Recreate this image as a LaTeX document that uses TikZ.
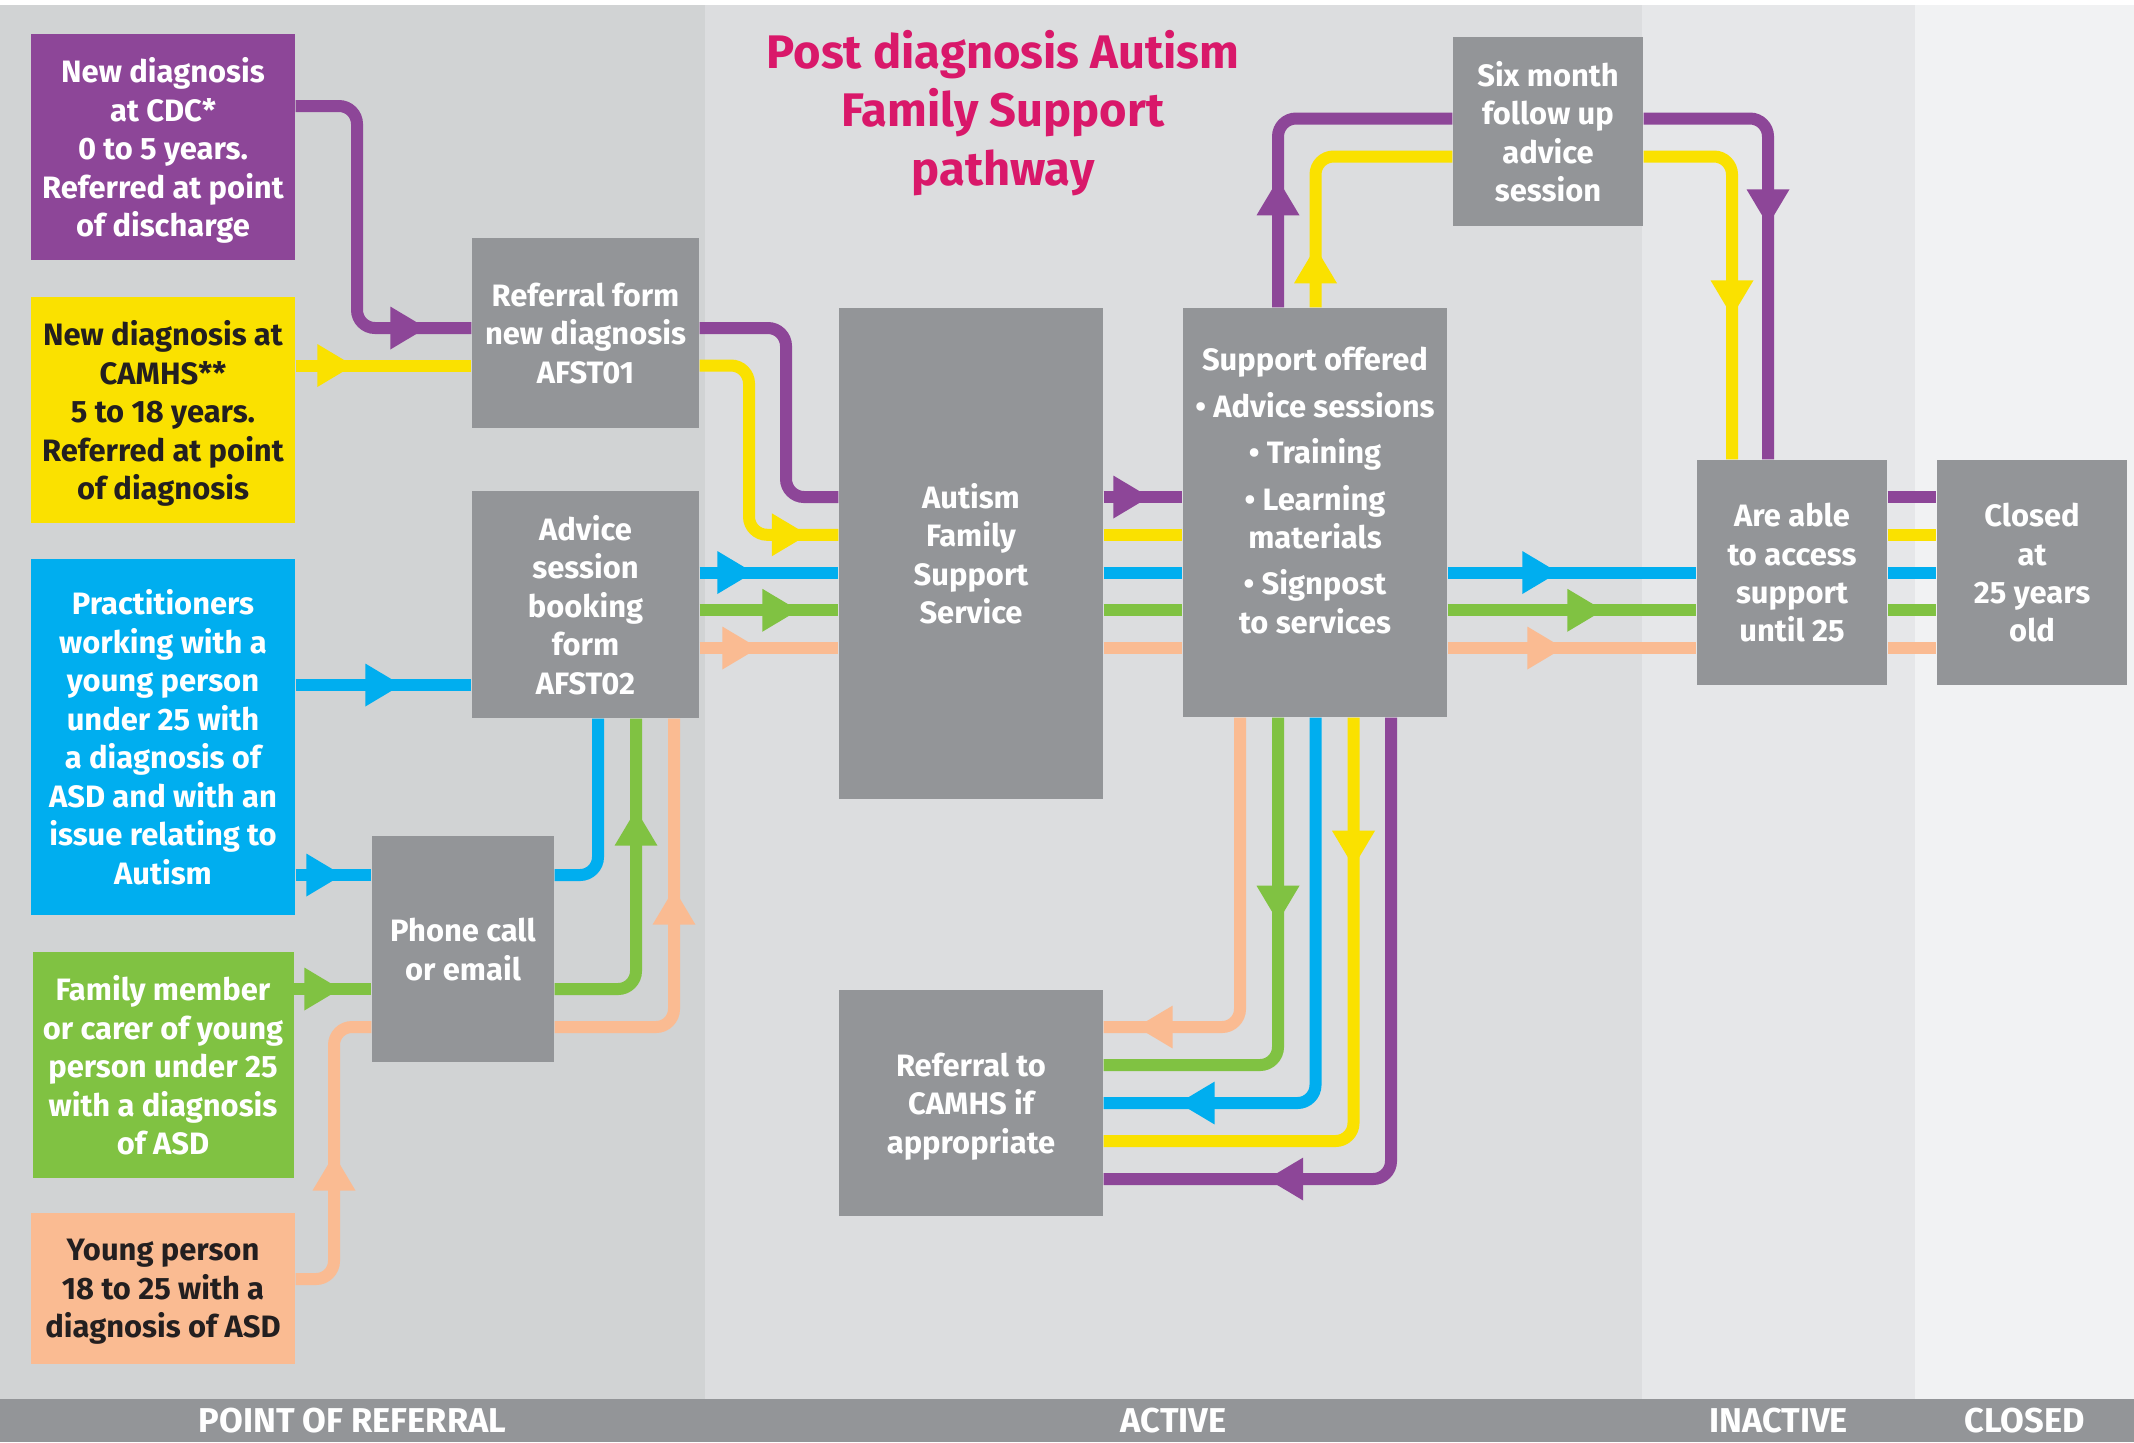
\documentclass[tikz,border=0pt]{standalone}
\usepackage{fontspec}
\setmainfont{Fira Sans}
\usetikzlibrary{arrows.meta, decorations.markings}
\definecolor{afpurple}{HTML}{8D4698}
\definecolor{afyellow}{HTML}{FAE100}
\definecolor{afblue}{HTML}{00AEEF}
\definecolor{afgreen}{HTML}{80C242}
\definecolor{afpeach}{HTML}{FABB92}
\definecolor{afgray}{HTML}{939598}
\definecolor{afpink}{HTML}{D9186A}
\definecolor{afdark}{HTML}{231F20}
\definecolor{zonerefer}{HTML}{D1D3D4}
\definecolor{zoneactive}{HTML}{DCDDDF}
\definecolor{zoneinactive}{HTML}{E6E7E9}
\definecolor{zoneclosed}{HTML}{F1F2F3}
\tikzstyle{boxtext} = [font=\fontsize{8.8}{10.95}\selectfont\bfseries, align=center, inner sep=0pt, text depth=0pt]
\tikzstyle{source} = [rectangle, boxtext, minimum width=2.64cm, minimum height=2.26cm, text=white]
\tikzstyle{stage} = [rectangle, boxtext, fill=afgray, text=white]
\tikzstyle{bartext} = [font=\fontsize{9.8}{11}\selectfont\bfseries, text=white, inner sep=0pt]
\tikzstyle{flow} = [line width=0.12cm, rounded corners=0.18cm]
\tikzset{arrowat/.style={postaction={decorate, decoration={markings, mark=at position #1 with {\arrow{Triangle[length=0.36cm, width=0.43cm, line width=0pt]}}}}}}
\def\lvpur{-4.97}
\def\lvyel{-5.3475}
\def\lvblu{-5.725}
\def\lvgrn{-6.1025}
\def\lvpch{-6.48}

\begin{document}
\begin{tikzpicture}[node distance=1.5cm]
	\useasboundingbox (0,0) rectangle (21.34,-14.42);
	% zones
	\fill[white] (0,0) rectangle (21.34,-14.42);
	\fill[zonerefer] (0,-0.05) rectangle (7.05,-13.99);
	\fill[zoneactive] (7.05,-0.05) rectangle (16.42,-13.99);
	\fill[zoneinactive] (16.42,-0.05) rectangle (19.15,-13.99);
	\fill[zoneclosed] (19.15,-0.05) rectangle (21.34,-13.99);
	\fill[afgray] (0,-13.99) rectangle (21.34,-14.42);
	\node (lblrefer) [bartext] at (3.525,-14.205) {POINT OF REFERRAL};
	\node (lblactive) [bartext] at (11.735,-14.205) {ACTIVE};
	\node (lblinactive) [bartext] at (17.785,-14.205) {INACTIVE};
	\node (lblclosed) [bartext] at (20.245,-14.205) {CLOSED};

	\node (title) [font=\fontsize{13.4}{16.6}\selectfont\bfseries, text=afpink, align=center] at (10.03,-1.13) {Post diagnosis Autism\\Family Support\\pathway};

	% sources
	\node (cdc) [source, fill=afpurple] at (1.63,-1.47) {New diagnosis\\at CDC*\\0 to 5 years.\\Referred at point\\of discharge};
	\node (camhs) [source, fill=afyellow, text=afdark, below of=cdc, yshift=-1.13cm] {New diagnosis at\\CAMHS**\\5 to 18 years.\\Referred at point\\of diagnosis};
	\node (pract) [source, fill=afblue, minimum height=3.56cm, below of=camhs, yshift=-1.77cm] {Practitioners\\working with a\\young person\\under 25 with\\a diagnosis of\\ASD and with an\\issue relating to\\Autism};
	\node (family) [source, fill=afgreen, minimum width=2.61cm, below of=pract, yshift=-1.78cm] {Family member\\or carer of young\\person under 25\\with a diagnosis\\of ASD};
	\node (young) [source, fill=afpeach, text=afdark, minimum height=1.51cm, below of=family, yshift=-0.735cm] {Young person\\18 to 25 with a\\diagnosis of ASD};

	% stages
	\node (afst01) [stage, minimum width=2.27cm, minimum height=1.90cm] at (5.855,-3.33) {Referral form\\new diagnosis\\AFST01};
	\node (afst02) [stage, minimum width=2.27cm, minimum height=2.27cm, below of=afst01, yshift=-1.215cm] {Advice\\session\\booking\\form\\AFST02};
	\node (phone) [stage, minimum width=1.82cm, minimum height=2.26cm] at (4.63,-9.49) {Phone call\\or email};
	\node (afss) [stage, minimum width=2.64cm, minimum height=4.91cm] at (9.71,-5.535) {Autism\\Family\\Support\\Service};
	\node (camhsref) [stage, minimum width=2.64cm, minimum height=2.26cm] at (9.71,-11.03) {Referral to\\CAMHS if\\appropriate};
	\node (support) [stage, minimum width=2.64cm, minimum height=4.09cm] at (13.15,-5.125) {Support offered\\[0.08cm]• Advice sessions\\[0.08cm]• Training\\[0.08cm]• Learning\\materials\\[0.08cm]• Signpost\\to services\\[0.06cm]\mbox{}};
	\node (sixmonth) [stage, minimum width=1.90cm, minimum height=1.89cm] at (15.48,-1.315) {Six month\\follow up\\advice\\session};
	\node (access) [stage, minimum width=1.90cm, minimum height=2.25cm] at (17.92,-5.725) {Are able\\to access\\support\\until 25};
	\node (closed) [stage, minimum width=1.90cm, minimum height=2.25cm, right of=access, xshift=0.9cm] {Closed\\at\\25 years\\old};

	% purple
	\draw[flow, afpurple, arrowat=-0.45cm] (cdc.east |- 0,-1.06) -| (3.57,-3.28) -- (afst01.west |- 0,-3.28);
	\draw[flow, afpurple] (afst01.east |- 0,-3.28) -| (7.86,\lvpur) -- (afss.west |- 0,\lvpur);
	\draw[flow, afpurple, arrowat=-0.33cm] (afss.east |- 0,\lvpur) -- (support.west |- 0,\lvpur);
	\draw[flow, afpurple, arrowat=1.28cm] (support.north -| 12.78,0) |- (sixmonth.west |- 0,-1.185);
	\draw[flow, afpurple, arrowat=-2.34cm] (sixmonth.east |- 0,-1.185) -| (access.north -| 17.68,0);
	\draw[flow, afpurple] (access.east |- 0,\lvpur) -- (closed.west |- 0,\lvpur);
	\draw[flow, afpurple, arrowat=-1.635cm] (support.south -| 13.91,0) |- (camhsref.east |- 0,-11.79);
	% yellow
	\draw[flow, afyellow, arrowat=-1.18cm] (camhs.east |- 0,-3.655) -- (afst01.west |- 0,-3.655);
	\draw[flow, afyellow, arrowat=-0.305cm] (afst01.east |- 0,-3.655) -| (7.49,\lvyel) -- (afss.west |- 0,\lvyel);
	\draw[flow, afyellow] (afss.east |- 0,\lvyel) -- (support.west |- 0,\lvyel);
	\draw[flow, afyellow, arrowat=0.60cm] (support.north -| 13.155,0) |- (sixmonth.west |- 0,-1.565);
	\draw[flow, afyellow, arrowat=-1.43cm] (sixmonth.east |- 0,-1.565) -| (access.north -| 17.32,0);
	\draw[flow, afyellow] (access.east |- 0,\lvyel) -- (closed.west |- 0,\lvyel);
	\draw[flow, afyellow, arrowat=1.49cm] (support.south -| 13.535,0) |- (camhsref.east |- 0,-11.41);
	% blue
	\draw[flow, afblue, arrowat=-0.70cm] (pract.east |- 0,-6.85) -- (afst02.west |- 0,-6.85);
	\draw[flow, afblue, arrowat=-0.29cm] (pract.east |- 0,-8.75) -- (phone.west |- 0,-8.75);
	\draw[flow, afblue] (phone.east |- 0,-8.75) -| (afst02.south -| 5.98,0);
	\draw[flow, afblue, arrowat=-0.85cm] (afst02.east |- 0,\lvblu) -- (afss.west |- 0,\lvblu);
	\draw[flow, afblue] (afss.east |- 0,\lvblu) -- (support.west |- 0,\lvblu);
	\draw[flow, afblue, arrowat=-1.38cm] (support.east |- 0,\lvblu) -- (access.west |- 0,\lvblu);
	\draw[flow, afblue] (access.east |- 0,\lvblu) -- (closed.west |- 0,\lvblu);
	\draw[flow, afblue, arrowat=-0.75cm] (support.south -| 13.155,0) |- (camhsref.east |- 0,-11.03);
	% green
	\draw[flow, afgreen, arrowat=-0.31cm] (family.east |- 0,-9.89) -- (phone.west |- 0,-9.89);
	\draw[flow, afgreen, arrowat=-0.91cm] (phone.east |- 0,-9.89) -| (afst02.south -| 6.36,0);
	\draw[flow, afgreen, arrowat=-0.40cm] (afst02.east |- 0,\lvgrn) -- (afss.west |- 0,\lvgrn);
	\draw[flow, afgreen] (afss.east |- 0,\lvgrn) -- (support.west |- 0,\lvgrn);
	\draw[flow, afgreen, arrowat=-0.93cm] (support.east |- 0,\lvgrn) -- (access.west |- 0,\lvgrn);
	\draw[flow, afgreen] (access.east |- 0,\lvgrn) -- (closed.west |- 0,\lvgrn);
	\draw[flow, afgreen, arrowat=2.04cm] (support.south -| 12.78,0) |- (camhsref.east |- 0,-10.65);
	% peach
	\draw[flow, afpeach, arrowat=1.55cm] (young.east |- 0,-12.79) -| (3.34,-10.27) -- (phone.west |- 0,-10.27);
	\draw[flow, afpeach, arrowat=-1.70cm] (phone.east |- 0,-10.27) -| (afst02.south -| 6.74,0);
	\draw[flow, afpeach, arrowat=-0.80cm] (afst02.east |- 0,\lvpch) -- (afss.west |- 0,\lvpch);
	\draw[flow, afpeach] (afss.east |- 0,\lvpch) -- (support.west |- 0,\lvpch);
	\draw[flow, afpeach, arrowat=-1.33cm] (support.east |- 0,\lvpch) -- (access.west |- 0,\lvpch);
	\draw[flow, afpeach] (access.east |- 0,\lvpch) -- (closed.west |- 0,\lvpch);
	\draw[flow, afpeach, arrowat=-0.33cm] (support.south -| 12.40,0) |- (camhsref.east |- 0,-10.27);
\end{tikzpicture}
\end{document}
